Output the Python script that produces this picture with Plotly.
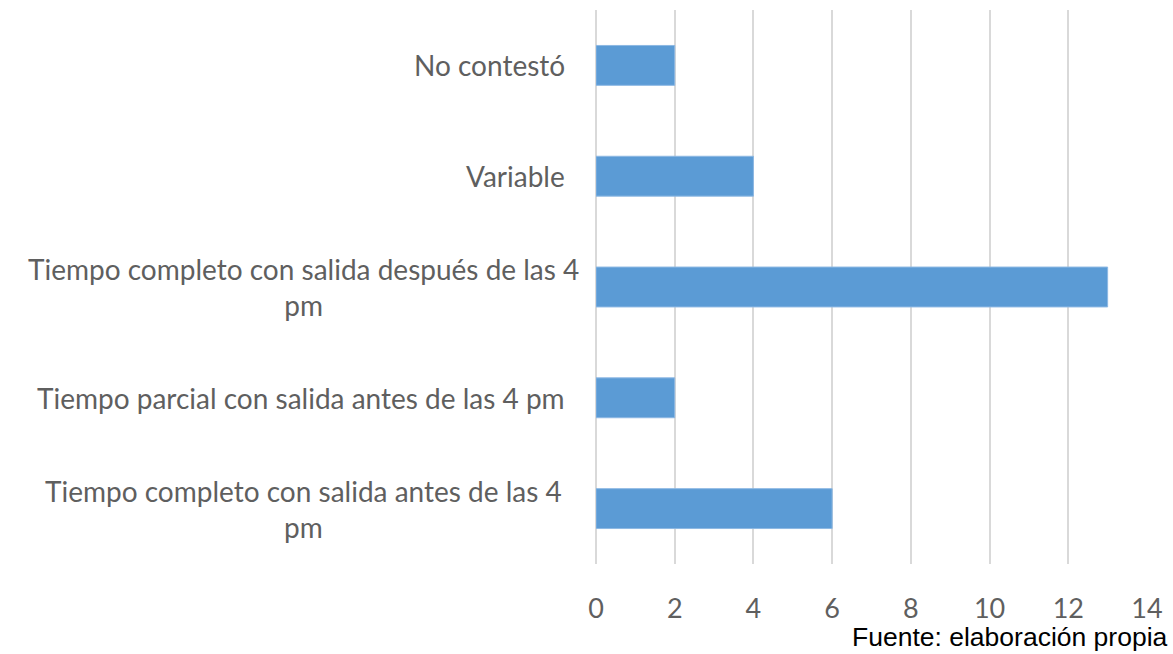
import plotly.graph_objects as go

# Data (bottom to top, as Plotly draws categories)
categories = [
    "Tiempo completo con salida antes de las 4 pm",
    "Tiempo parcial con salida antes de las 4 pm",
    "Tiempo completo con salida después de las 4 pm",
    "Variable",
    "No contestó",
]
tick_labels = [
    "Tiempo completo con salida antes de las 4<br>pm",
    "Tiempo parcial con salida antes de las 4 pm",
    "Tiempo completo con salida después de las 4<br>pm",
    "Variable",
    "No contestó",
]
values = [6, 2, 13, 4, 2]
x_ticks = [0, 2, 4, 6, 8, 10, 12, 14]

W, H = 1173, 654
L, R, T, B = 596, 20, 10, 90
plot_w = W - L - R

LABEL_FONT = dict(family="Lato", size=28, color="#5F5F5F")

fig = go.Figure(go.Bar(
    y=categories,
    x=values,
    orientation="h",
    marker=dict(color="#5B9BD5", line=dict(color="#8DB8E3", width=1)),
    width=0.36,
    hoverinfo="x+y",
))

annotations = []
for cat, lab in zip(categories, tick_labels):
    if "<br>" in lab:
        annotations.append(dict(
            x=(300 - L) / plot_w, xref="paper", xanchor="center",
            y=cat, yref="y", yanchor="middle",
            text=lab, showarrow=False, align="center",
            font=LABEL_FONT,
        ))
    else:
        annotations.append(dict(
            x=(567 - L) / plot_w, xref="paper", xanchor="right",
            y=cat, yref="y", yanchor="middle",
            text=lab, showarrow=False, align="right",
            font=LABEL_FONT,
        ))

annotations.append(dict(
    x=(1176 - L) / plot_w, xref="paper", xanchor="right",
    y=(H - B - 637) / (H - T - B), yref="paper", yanchor="middle",
    text="Fuente: elaboración propia", showarrow=False,
    font=dict(family="Liberation Sans", size=26.5, color="#000000"),
))

fig.update_layout(
    width=W, height=H,
    margin=dict(l=L, r=R, t=T, b=B),
    paper_bgcolor="white", plot_bgcolor="white",
    showlegend=False,
    annotations=annotations,
    xaxis=dict(
        range=[0, 14], tickvals=x_ticks, ticktext=[str(v) for v in x_ticks],
        showgrid=True, gridcolor="#D9D9D9", gridwidth=1.5,
        zeroline=True, zerolinecolor="#D9D9D9", zerolinewidth=1.5,
        showline=False, ticks="",
        tickfont=dict(family="Lato", size=27, color="#5F5F5F"),
        ticklabelstandoff=26,
    ),
    yaxis=dict(
        categoryorder="array", categoryarray=categories,
        range=[-0.5, 4.5],
        showticklabels=False, showgrid=False, zeroline=False,
        showline=False, ticks="",
    ),
)

fig.write_html(
    "out.html",
    config={"displayModeBar": False},
    post_script="document.body.style.margin='0';document.body.style.overflow='hidden';",
)
